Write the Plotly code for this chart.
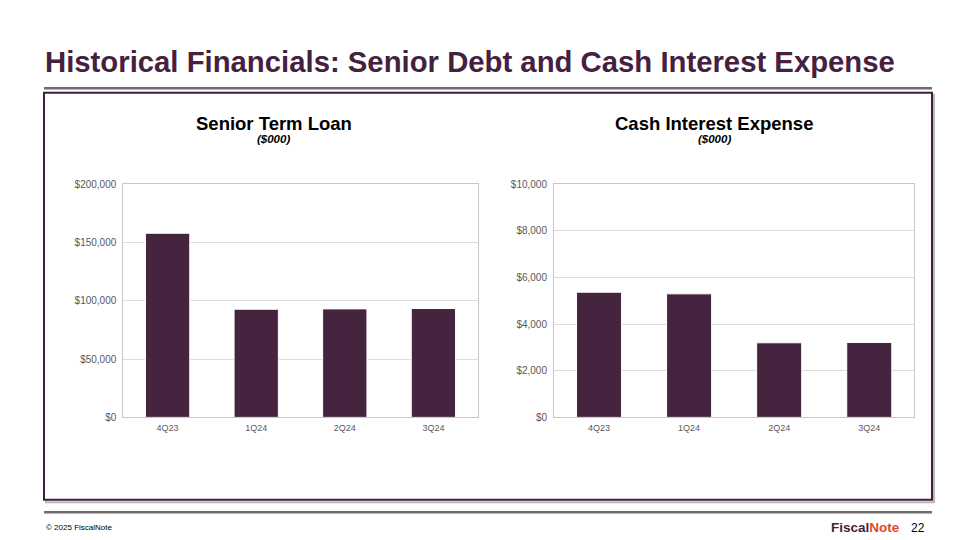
import plotly.graph_objects as go

quarters = ["4Q23", "1Q24", "2Q24", "3Q24"]
term_loan = [158000, 92800, 93100, 93400]
interest_expense = [5370, 5300, 3200, 3215]

loan_ticks = [0, 50000, 100000, 150000, 200000]
loan_ticktext = ["$0", "$50,000", "$100,000", "$150,000", "$200,000"]
interest_ticks = [0, 2000, 4000, 6000, 8000, 10000]
interest_ticktext = ["$0", "$2,000", "$4,000", "$6,000", "$8,000", "$10,000"]

W, H = 960, 540
PURPLE = "#45243F"
FONT = "Liberation Sans, Arial, sans-serif"


def px(x):
    return x / W


def py(y):
    # screen row -> paper coord; the photo comes out squeezed ~2% vertically, offset ~6px
    return 1 - (y - 6) / 0.978 / H


fig = go.Figure()

fig.add_trace(go.Bar(x=quarters, y=term_loan, marker=dict(color=PURPLE, line=dict(color="white", width=1)),
                     xaxis="x", yaxis="y", hoverinfo="x+y"))
fig.add_trace(go.Bar(x=quarters, y=interest_expense, marker=dict(color=PURPLE, line=dict(color="white", width=1)),
                     xaxis="x2", yaxis="y2", hoverinfo="x+y"))


def xaxis_template(domain, anchor):
    return {"domain": domain,
            "anchor": anchor,
            "showline": True,
            "linecolor": "#C8C8C8",
            "linewidth": 1,
            "mirror": True,
            "showgrid": False,
            "ticks": "",
            "ticklabelstandoff": 2,
            "tickfont": dict(family=FONT, size=9, color="#595959"),
            "fixedrange": True}


def yaxis_template(anchor, rng, tickvals, ticktext):
    return {"domain": [py(416.7), py(184)],
            "anchor": anchor,
            "range": rng,
            "tickvals": tickvals,
            "ticktext": ticktext,
            "showline": True,
            "linecolor": "#C8C8C8",
            "linewidth": 1,
            "mirror": True,
            "showgrid": True,
            "gridcolor": "#DCDCDC",
            "zeroline": False,
            "ticks": "",
            "ticklabelstandoff": 4,
            "tickfont": dict(family=FONT, size=10, color="#595959"),
            "fixedrange": True}


# page frame: title rule, purple box with shadow, footer rule
shapes = [
    dict(type="line", xref="paper", yref="paper", x0=px(44), x1=px(932), y0=py(88), y1=py(88),
         line=dict(color="#6E6E6E", width=2.5)),
    dict(type="rect", xref="paper", yref="paper", x0=px(46), x1=px(934), y0=py(94.5), y1=py(501.5),
         line=dict(color="#BDB6BC", width=2), layer="below"),
    dict(type="rect", xref="paper", yref="paper", x0=px(44), x1=px(932), y0=py(92.5), y1=py(499),
         line=dict(color="#3F1F3D", width=2), fillcolor="white", layer="below"),
    dict(type="line", xref="paper", yref="paper", x0=px(44), x1=px(932), y0=py(511.5), y1=py(511.5),
         line=dict(color="#6E6E6E", width=2.5)),
]

annotations = [
    dict(text="<b>Historical Financials: Senior Debt and Cash Interest Expense</b>",
         x=px(43), y=py(61.7), xanchor="left", yanchor="middle",
         font=dict(family=FONT, size=29.3, color="#45213F")),
    dict(text="<b>Senior Term Loan</b>", x=px(273.5), y=py(123), xanchor="center", yanchor="middle",
         font=dict(family=FONT, size=18.5, color="black")),
    dict(text="<b><i>($000)</i></b>", x=px(273.5), y=py(138.5), xanchor="center", yanchor="middle",
         font=dict(family=FONT, size=11.5, color="black")),
    dict(text="<b>Cash Interest Expense</b>", x=px(714), y=py(123), xanchor="center", yanchor="middle",
         font=dict(family=FONT, size=18.5, color="black")),
    dict(text="<b><i>($000)</i></b>", x=px(714), y=py(138.5), xanchor="center", yanchor="middle",
         font=dict(family=FONT, size=11.5, color="black")),
    dict(text="© 2025 FiscalNote", x=px(44), y=py(527), xanchor="left", yanchor="middle",
         font=dict(family=FONT, size=8, color="black")),
    dict(text="<b><span style='color:#45213F'>Fiscal</span><span style='color:#E5462A'>Note</span></b>",
         x=px(902), y=py(527), xanchor="right", yanchor="middle",
         font=dict(family=FONT, size=13.5)),
    dict(text="22", x=px(927), y=py(527), xanchor="right", yanchor="middle",
         font=dict(family=FONT, size=12, color="black")),
]
for a in annotations:
    a.update(xref="paper", yref="paper", showarrow=False)

fig.update_layout(width=W, height=H,
                  margin=dict(l=0, r=0, t=0, b=0),
                  paper_bgcolor="white",
                  plot_bgcolor="#F2F2F2",
                  showlegend=False,
                  bargap=0.5,
                  font=dict(family=FONT),
                  xaxis=xaxis_template([px(123.3), px(477.7)], "y"),
                  yaxis=yaxis_template("x", [0, 200000], loan_ticks, loan_ticktext),
                  xaxis2=xaxis_template([px(554), px(914.3)], "y2"),
                  yaxis2=yaxis_template("x2", [0, 10000], interest_ticks, interest_ticktext),
                  shapes=shapes,
                  annotations=annotations)

# the page body has a default 8px margin; drop it so the figure sits at the window origin
fig.write_html("out.html", config={"displayModeBar": False},
               post_script="document.body.style.margin = '0';")
